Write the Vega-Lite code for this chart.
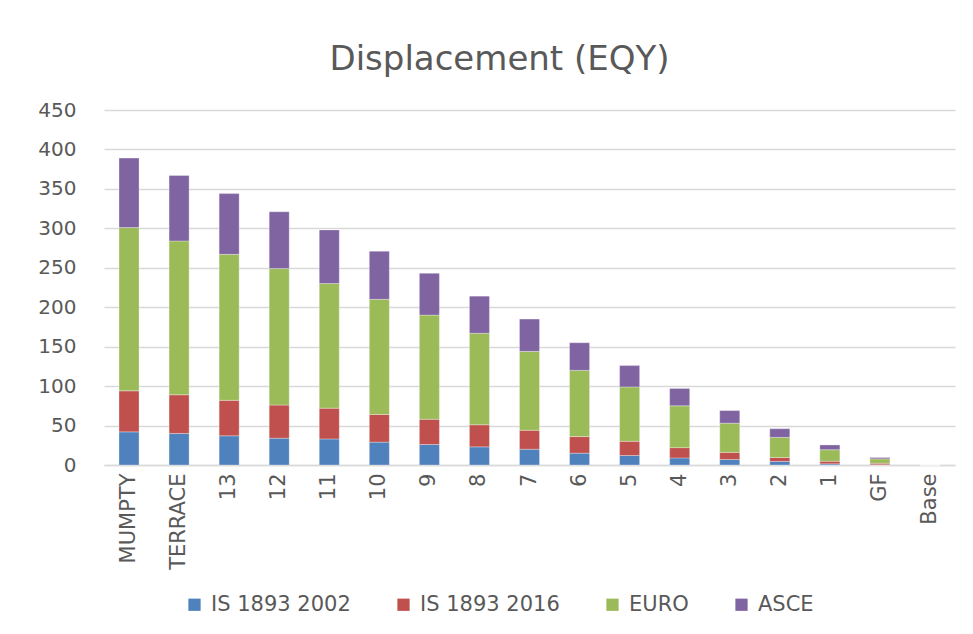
{
  "$schema": "https://vega.github.io/schema/vega-lite/v6.json",
  "autosize": "none",
  "width": 851,
  "height": 355,
  "padding": {"left": 104, "top": 110, "right": 18, "bottom": 169},
  "background": "white",
  "title": {
    "text": "Displacement (EQY)",
    "font": "DejaVu Sans",
    "fontSize": 34,
    "fontWeight": "normal",
    "color": "#595959",
    "anchor": "middle",
    "offset": 23,
    "dx": -30
  },
  "data": {
    "values": [
      {"floor": "MUMPTY", "series": "IS 1893 2002", "k": 1, "v": 42},
      {"floor": "MUMPTY", "series": "IS 1893 2016", "k": 2, "v": 52},
      {"floor": "MUMPTY", "series": "EURO", "k": 3, "v": 207},
      {"floor": "MUMPTY", "series": "ASCE", "k": 4, "v": 88},
      {"floor": "TERRACE", "series": "IS 1893 2002", "k": 1, "v": 40},
      {"floor": "TERRACE", "series": "IS 1893 2016", "k": 2, "v": 49},
      {"floor": "TERRACE", "series": "EURO", "k": 3, "v": 195},
      {"floor": "TERRACE", "series": "ASCE", "k": 4, "v": 83},
      {"floor": "13", "series": "IS 1893 2002", "k": 1, "v": 37},
      {"floor": "13", "series": "IS 1893 2016", "k": 2, "v": 45},
      {"floor": "13", "series": "EURO", "k": 3, "v": 185},
      {"floor": "13", "series": "ASCE", "k": 4, "v": 77},
      {"floor": "12", "series": "IS 1893 2002", "k": 1, "v": 34},
      {"floor": "12", "series": "IS 1893 2016", "k": 2, "v": 42},
      {"floor": "12", "series": "EURO", "k": 3, "v": 173},
      {"floor": "12", "series": "ASCE", "k": 4, "v": 72},
      {"floor": "11", "series": "IS 1893 2002", "k": 1, "v": 33},
      {"floor": "11", "series": "IS 1893 2016", "k": 2, "v": 39},
      {"floor": "11", "series": "EURO", "k": 3, "v": 158},
      {"floor": "11", "series": "ASCE", "k": 4, "v": 68},
      {"floor": "10", "series": "IS 1893 2002", "k": 1, "v": 29},
      {"floor": "10", "series": "IS 1893 2016", "k": 2, "v": 35},
      {"floor": "10", "series": "EURO", "k": 3, "v": 146},
      {"floor": "10", "series": "ASCE", "k": 4, "v": 61},
      {"floor": "9", "series": "IS 1893 2002", "k": 1, "v": 26},
      {"floor": "9", "series": "IS 1893 2016", "k": 2, "v": 32},
      {"floor": "9", "series": "EURO", "k": 3, "v": 132},
      {"floor": "9", "series": "ASCE", "k": 4, "v": 53},
      {"floor": "8", "series": "IS 1893 2002", "k": 1, "v": 23},
      {"floor": "8", "series": "IS 1893 2016", "k": 2, "v": 28},
      {"floor": "8", "series": "EURO", "k": 3, "v": 116},
      {"floor": "8", "series": "ASCE", "k": 4, "v": 47},
      {"floor": "7", "series": "IS 1893 2002", "k": 1, "v": 20},
      {"floor": "7", "series": "IS 1893 2016", "k": 2, "v": 24},
      {"floor": "7", "series": "EURO", "k": 3, "v": 100},
      {"floor": "7", "series": "ASCE", "k": 4, "v": 41},
      {"floor": "6", "series": "IS 1893 2002", "k": 1, "v": 15},
      {"floor": "6", "series": "IS 1893 2016", "k": 2, "v": 21},
      {"floor": "6", "series": "EURO", "k": 3, "v": 84},
      {"floor": "6", "series": "ASCE", "k": 4, "v": 35},
      {"floor": "5", "series": "IS 1893 2002", "k": 1, "v": 12},
      {"floor": "5", "series": "IS 1893 2016", "k": 2, "v": 18},
      {"floor": "5", "series": "EURO", "k": 3, "v": 69},
      {"floor": "5", "series": "ASCE", "k": 4, "v": 27},
      {"floor": "4", "series": "IS 1893 2002", "k": 1, "v": 9},
      {"floor": "4", "series": "IS 1893 2016", "k": 2, "v": 13},
      {"floor": "4", "series": "EURO", "k": 3, "v": 53},
      {"floor": "4", "series": "ASCE", "k": 4, "v": 22},
      {"floor": "3", "series": "IS 1893 2002", "k": 1, "v": 7},
      {"floor": "3", "series": "IS 1893 2016", "k": 2, "v": 9},
      {"floor": "3", "series": "EURO", "k": 3, "v": 37},
      {"floor": "3", "series": "ASCE", "k": 4, "v": 16},
      {"floor": "2", "series": "IS 1893 2002", "k": 1, "v": 4.5},
      {"floor": "2", "series": "IS 1893 2016", "k": 2, "v": 5},
      {"floor": "2", "series": "EURO", "k": 3, "v": 25.5},
      {"floor": "2", "series": "ASCE", "k": 4, "v": 11},
      {"floor": "1", "series": "IS 1893 2002", "k": 1, "v": 1.5},
      {"floor": "1", "series": "IS 1893 2016", "k": 2, "v": 3.3},
      {"floor": "1", "series": "EURO", "k": 3, "v": 14.6},
      {"floor": "1", "series": "ASCE", "k": 4, "v": 6},
      {"floor": "GF", "series": "IS 1893 2002", "k": 1, "v": 0.3},
      {"floor": "GF", "series": "IS 1893 2016", "k": 2, "v": 1.9},
      {"floor": "GF", "series": "EURO", "k": 3, "v": 5.6},
      {"floor": "GF", "series": "ASCE", "k": 4, "v": 1.7},
      {"floor": "Base", "series": "IS 1893 2002", "k": 1, "v": 0},
      {"floor": "Base", "series": "IS 1893 2016", "k": 2, "v": 0},
      {"floor": "Base", "series": "EURO", "k": 3, "v": 0},
      {"floor": "Base", "series": "ASCE", "k": 4, "v": 0}
    ]
  },
  "mark": {"type": "bar", "stroke": "white", "strokeWidth": 0.5, "strokeOpacity": 0.6},
  "encoding": {
    "x": {
      "field": "floor",
      "type": "nominal",
      "sort": null,
      "scale": {"paddingInner": 0.6, "paddingOuter": 0.3},
      "axis": {
        "title": null,
        "labelAngle": -90,
        "labelFont": "DejaVu Sans",
        "labelFontSize": 21,
        "labelColor": "#595959",
        "labelPadding": 8,
        "ticks": false,
        "domainColor": "#d9d9d9",
        "domainWidth": 1.5
      }
    },
    "y": {
      "field": "v",
      "type": "quantitative",
      "stack": "zero",
      "scale": {"domain": [0, 450], "nice": false},
      "axis": {
        "title": null,
        "values": [0, 50, 100, 150, 200, 250, 300, 350, 400, 450],
        "labelFont": "DejaVu Sans",
        "labelFontSize": 20,
        "labelColor": "#595959",
        "labelPadding": 28,
        "ticks": false,
        "domain": false,
        "gridColor": "#d9d9d9",
        "gridWidth": 1.5
      }
    },
    "color": {
      "field": "series",
      "type": "nominal",
      "scale": {
        "domain": ["IS 1893 2002", "IS 1893 2016", "EURO", "ASCE"],
        "range": ["#4F81BD", "#C0504D", "#9BBB59", "#8064A2"]
      },
      "legend": {
        "title": null,
        "orient": "none",
        "legendX": 80,
        "legendY": 484,
        "direction": "horizontal",
        "symbolType": "square",
        "symbolSize": 150,
        "symbolStrokeWidth": 0,
        "labelFont": "DejaVu Sans",
        "labelFontSize": 21,
        "labelColor": "#595959",
        "columnPadding": 42,
        "labelOffset": 6
      }
    },
    "order": {"field": "k", "type": "quantitative"}
  },
  "config": {"view": {"stroke": null}}
}
